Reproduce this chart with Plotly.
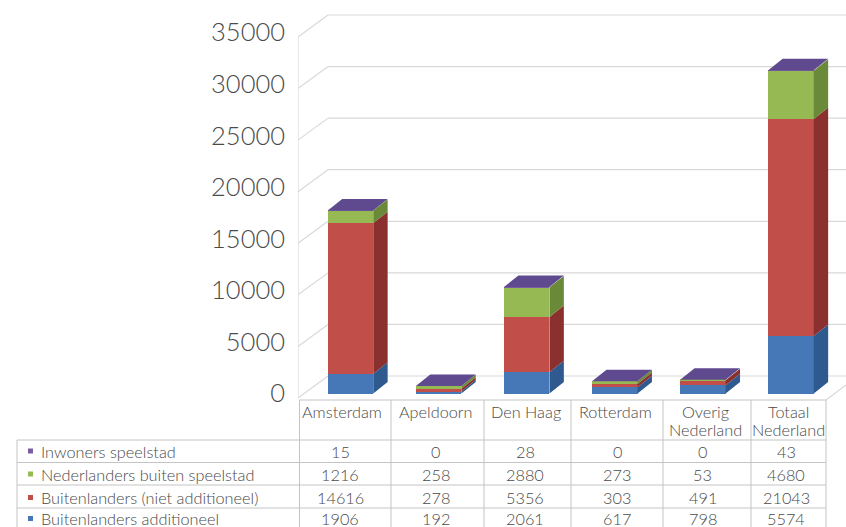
import plotly.graph_objects as go

W, H = 846, 527

categories = ["Amsterdam", "Apeldoorn", "Den Haag", "Rotterdam", "Overig<br>Nederland", "Totaal<br>Nederland"]
series_names = ["Buitenlanders additioneel", "Buitenlanders (niet additioneel)", "Nederlanders buiten speelstad", "Inwoners speelstad"]
buitenlanders_add = [1906, 192, 2061, 617, 798, 5574]
buitenlanders_niet = [14616, 278, 5356, 303, 491, 21043]
nederlanders = [1216, 258, 2880, 273, 53, 4680]
inwoners = [15, 0, 28, 0, 0, 43]
y_ticks = [0, 5000, 10000, 15000, 20000, 25000, 30000, 35000]

front_colors = ["#4678B8", "#C24E4A", "#97B954", "#7A5CA0"]
side_colors = ["#2F5A90", "#8A302E", "#6A8A3A", "#5A4480"]
top_color = "#5F4A8F"
grid_color = "#D9D9D9"
table_color = "#C4C4C4"
text_color = "#4A4A4A"
FONT = "Lato"

# pixel scales of the picture
X0_PX, X_STEP = 350.5, 88.1
Y0_PX, Y_K = 393.5, 361 / 35000
LEFT_PX = 298
BAR_W = 45.5 / X_STEP
DX = 14.4 / X_STEP
DY = 11.4 / Y_K

series = [buitenlanders_add, buitenlanders_niet, nederlanders, inwoners]
xs = list(range(len(categories)))

fig = go.Figure()

for name, vals, color in zip(series_names, series, front_colors):
    fig.add_trace(go.Bar(x=xs, y=vals, name=name, width=BAR_W, marker=dict(color=color, line_width=0)))

# side faces, one polygon per stacked segment
for s, (name, vals, color) in enumerate(zip(series_names, series, side_colors)):
    px, py = [], []
    for i in xs:
        lo = sum(series[k][i] for k in range(s))
        hi = lo + vals[i]
        r = i + BAR_W / 2
        px += [r, r + DX, r + DX, r, r, None]
        py += [lo, lo + DY, hi + DY, hi, lo, None]
    fig.add_trace(go.Scatter(x=px, y=py, mode="lines", fill="toself", fillcolor=color,
                             line=dict(width=0), hoverinfo="skip", showlegend=False))

# top faces
px, py = [], []
for i in xs:
    top = sum(v[i] for v in series)
    l, r = i - BAR_W / 2, i + BAR_W / 2
    px += [l, r, r + DX, l + DX, l, None]
    py += [top, top, top + DY, top + DY, top, None]
fig.add_trace(go.Scatter(x=px, y=py, mode="lines", fill="toself", fillcolor=top_color,
                         line=dict(width=0), hoverinfo="skip", showlegend=False))


def to_x(p):
    return (p - X0_PX) / X_STEP


def to_y(p):
    return (Y0_PX - p) / Y_K


def paper_x(p):
    return p / W


def paper_y(p):
    return 1 - p / H


shapes = []


def wall_line(x0, y0, x1, y1, color=grid_color, width=1.2):
    shapes.append(dict(type="line", xref="x", yref="y", layer="below", x0=x0, y0=y0, x1=x1, y1=y1,
                       line=dict(color=color, width=width)))


# walls and gridlines, behind the bars
wall_front = to_y(398) - to_y(393.5)
wall_back = to_y(376) - to_y(393.5)
for v in y_ticks:
    wall_line(to_x(LEFT_PX), v + wall_front, to_x(328), v + wall_back)
    wall_line(to_x(328), v + wall_back, to_x(W), v + wall_back)
wall_line(to_x(LEFT_PX), y_ticks[0] + wall_front, to_x(LEFT_PX), y_ticks[-1] + wall_front)
wall_line(to_x(826), to_y(400), to_x(846), to_y(385))


def px_line(x0, y0, x1, y1):
    shapes.append(dict(type="line", xref="paper", yref="paper", x0=paper_x(x0), y0=paper_y(y0),
                       x1=paper_x(x1), y1=paper_y(y1), line=dict(color=table_color, width=1)))


# data table grid
col_lines = [299.5, 391, 484, 571, 663, 751, 826]
row_lines = [440, 462.5, 485, 508]
px_line(col_lines[0], 400, col_lines[-1], 400)
for c in col_lines:
    px_line(c, 400, c, H)
px_line(17, 440, 17, H)
for r in row_lines:
    px_line(17, r, col_lines[-1], r)

annotations = []


def px_text(x, y, text, anchor="center", size=16.3):
    annotations.append(dict(xref="paper", yref="paper", x=paper_x(x), y=paper_y(y), text=text, showarrow=False,
                            xanchor=anchor, yanchor="middle",
                            font=dict(family=FONT, size=size, color=text_color, weight=300)))


label_x = [342, 436, 525.6, 615, 705, 788]
value_x = [340, 435.5, 525, 617, 702.6, 786]
row_y = [451, 474, 497.5, 518.5]

for x, cat in zip(label_x, categories):
    # two line labels sit closer than plotly's own line height
    for line_y, part in zip([411, 429], cat.split("<br>")):
        px_text(x, line_y, part)

# table rows, top row is the last series
for y, name, vals, color in zip(row_y, reversed(series_names), reversed(series), reversed(front_colors)):
    shapes.append(dict(type="rect", xref="paper", yref="paper", x0=paper_x(28), x1=paper_x(33),
                       y0=paper_y(y + 2.5), y1=paper_y(y - 2.5), fillcolor=color, line_width=0))
    px_text(38.5, y, name, anchor="left")
    for x, v in zip(value_x, vals):
        px_text(x, y, str(v))

fig.update_layout(
    width=W,
    height=H,
    margin=dict(l=0, r=0, t=0, b=0),
    barmode="stack",
    showlegend=False,
    paper_bgcolor="white",
    plot_bgcolor="white",
    shapes=shapes,
    annotations=annotations,
    xaxis=dict(domain=[paper_x(LEFT_PX), 1], range=[to_x(LEFT_PX), to_x(W)], showgrid=False, zeroline=False,
               showticklabels=False, ticks="", fixedrange=True),
    yaxis=dict(domain=[0, 1], range=[to_y(H), to_y(0)], showgrid=False, zeroline=False, showline=False,
               tickvals=y_ticks, tickformat="d", ticks="", ticklabelstandoff=12,
               tickfont=dict(family=FONT, size=25.5, color=text_color, weight=300), fixedrange=True),
)

# the page's default body margin would push the figure 8px in
fig.write_html("out.html", config={"displayModeBar": False}, post_script="document.body.style.margin = '0';")
